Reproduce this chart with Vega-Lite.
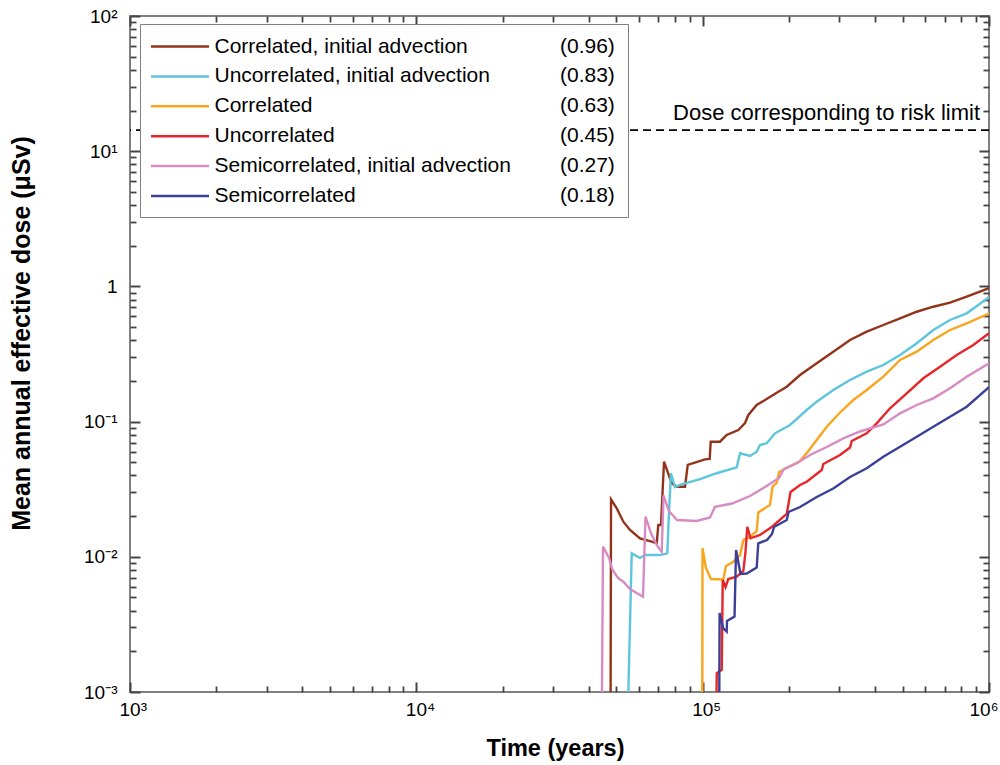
{
  "$schema": "https://vega.github.io/schema/vega-lite/v6.json",
  "width": 859,
  "height": 676,
  "autosize": {"type": "none"},
  "padding": {"left": 130, "top": 16, "right": 11, "bottom": 73},
  "background": "white",
  "config": {
    "view": {"stroke": "#808080", "strokeWidth": 2},
    "font": "Liberation Sans",
    "axis": {"labelFont": "Liberation Sans", "titleFont": "Liberation Sans", "labelColor": "black", "titleColor": "black", "grid": false, "domain": false, "labelFlush": false, "labelOverlap": false, "labelBound": false}
  },
  "datasets": {
    "curves": [
      {"scenario": "Correlated, initial advection", "fraction": "(0.96)", "time": 47700, "dose": 0.001},
      {"scenario": "Correlated, initial advection", "fraction": "(0.96)", "time": 47860, "dose": 0.0266},
      {"scenario": "Correlated, initial advection", "fraction": "(0.96)", "time": 50100, "dose": 0.02284},
      {"scenario": "Correlated, initial advection", "fraction": "(0.96)", "time": 52840, "dose": 0.01818},
      {"scenario": "Correlated, initial advection", "fraction": "(0.96)", "time": 55760, "dose": 0.01579},
      {"scenario": "Correlated, initial advection", "fraction": "(0.96)", "time": 60410, "dose": 0.0137},
      {"scenario": "Correlated, initial advection", "fraction": "(0.96)", "time": 66380, "dose": 0.01293},
      {"scenario": "Correlated, initial advection", "fraction": "(0.96)", "time": 69110, "dose": 0.01259},
      {"scenario": "Correlated, initial advection", "fraction": "(0.96)", "time": 69990, "dose": 0.01719},
      {"scenario": "Correlated, initial advection", "fraction": "(0.96)", "time": 71530, "dose": 0.01719},
      {"scenario": "Correlated, initial advection", "fraction": "(0.96)", "time": 73280, "dose": 0.0505},
      {"scenario": "Correlated, initial advection", "fraction": "(0.96)", "time": 77950, "dose": 0.035},
      {"scenario": "Correlated, initial advection", "fraction": "(0.96)", "time": 81150, "dose": 0.033},
      {"scenario": "Correlated, initial advection", "fraction": "(0.96)", "time": 86780, "dose": 0.033},
      {"scenario": "Correlated, initial advection", "fraction": "(0.96)", "time": 88680, "dose": 0.0478},
      {"scenario": "Correlated, initial advection", "fraction": "(0.96)", "time": 101900, "dose": 0.0526},
      {"scenario": "Correlated, initial advection", "fraction": "(0.96)", "time": 105800, "dose": 0.053},
      {"scenario": "Correlated, initial advection", "fraction": "(0.96)", "time": 106700, "dose": 0.071},
      {"scenario": "Correlated, initial advection", "fraction": "(0.96)", "time": 115000, "dose": 0.071},
      {"scenario": "Correlated, initial advection", "fraction": "(0.96)", "time": 121300, "dose": 0.0796},
      {"scenario": "Correlated, initial advection", "fraction": "(0.96)", "time": 133200, "dose": 0.0867},
      {"scenario": "Correlated, initial advection", "fraction": "(0.96)", "time": 140600, "dose": 0.0976},
      {"scenario": "Correlated, initial advection", "fraction": "(0.96)", "time": 144400, "dose": 0.1119},
      {"scenario": "Correlated, initial advection", "fraction": "(0.96)", "time": 154400, "dose": 0.1327},
      {"scenario": "Correlated, initial advection", "fraction": "(0.96)", "time": 165100, "dose": 0.1444},
      {"scenario": "Correlated, initial advection", "fraction": "(0.96)", "time": 183800, "dose": 0.1664},
      {"scenario": "Correlated, initial advection", "fraction": "(0.96)", "time": 196600, "dose": 0.1812},
      {"scenario": "Correlated, initial advection", "fraction": "(0.96)", "time": 218800, "dose": 0.2212},
      {"scenario": "Correlated, initial advection", "fraction": "(0.96)", "time": 250200, "dose": 0.27},
      {"scenario": "Correlated, initial advection", "fraction": "(0.96)", "time": 285900, "dose": 0.3289},
      {"scenario": "Correlated, initial advection", "fraction": "(0.96)", "time": 327100, "dose": 0.4014},
      {"scenario": "Correlated, initial advection", "fraction": "(0.96)", "time": 374100, "dose": 0.4623},
      {"scenario": "Correlated, initial advection", "fraction": "(0.96)", "time": 427500, "dose": 0.5182},
      {"scenario": "Correlated, initial advection", "fraction": "(0.96)", "time": 489100, "dose": 0.5807},
      {"scenario": "Correlated, initial advection", "fraction": "(0.96)", "time": 559300, "dose": 0.6496},
      {"scenario": "Correlated, initial advection", "fraction": "(0.96)", "time": 639000, "dose": 0.7076},
      {"scenario": "Correlated, initial advection", "fraction": "(0.96)", "time": 730900, "dose": 0.7575},
      {"scenario": "Correlated, initial advection", "fraction": "(0.96)", "time": 835800, "dose": 0.8389},
      {"scenario": "Correlated, initial advection", "fraction": "(0.96)", "time": 1000000, "dose": 0.97},

      {"scenario": "Uncorrelated, initial advection", "fraction": "(0.83)", "time": 55000, "dose": 0.001},
      {"scenario": "Uncorrelated, initial advection", "fraction": "(0.83)", "time": 56530, "dose": 0.0106},
      {"scenario": "Uncorrelated, initial advection", "fraction": "(0.83)", "time": 60410, "dose": 0.0098},
      {"scenario": "Uncorrelated, initial advection", "fraction": "(0.83)", "time": 62890, "dose": 0.0103},
      {"scenario": "Uncorrelated, initial advection", "fraction": "(0.83)", "time": 70960, "dose": 0.0103},
      {"scenario": "Uncorrelated, initial advection", "fraction": "(0.83)", "time": 75230, "dose": 0.0106},
      {"scenario": "Uncorrelated, initial advection", "fraction": "(0.83)", "time": 76450, "dose": 0.0235},
      {"scenario": "Uncorrelated, initial advection", "fraction": "(0.83)", "time": 77500, "dose": 0.0415},
      {"scenario": "Uncorrelated, initial advection", "fraction": "(0.83)", "time": 80040, "dose": 0.0328},
      {"scenario": "Uncorrelated, initial advection", "fraction": "(0.83)", "time": 83330, "dose": 0.034},
      {"scenario": "Uncorrelated, initial advection", "fraction": "(0.83)", "time": 97890, "dose": 0.0376},
      {"scenario": "Uncorrelated, initial advection", "fraction": "(0.83)", "time": 111900, "dose": 0.0415},
      {"scenario": "Uncorrelated, initial advection", "fraction": "(0.83)", "time": 131500, "dose": 0.0459},
      {"scenario": "Uncorrelated, initial advection", "fraction": "(0.83)", "time": 135100, "dose": 0.0583},
      {"scenario": "Uncorrelated, initial advection", "fraction": "(0.83)", "time": 146300, "dose": 0.0557},
      {"scenario": "Uncorrelated, initial advection", "fraction": "(0.83)", "time": 154400, "dose": 0.0599},
      {"scenario": "Uncorrelated, initial advection", "fraction": "(0.83)", "time": 158600, "dose": 0.0671},
      {"scenario": "Uncorrelated, initial advection", "fraction": "(0.83)", "time": 167400, "dose": 0.0691},
      {"scenario": "Uncorrelated, initial advection", "fraction": "(0.83)", "time": 178900, "dose": 0.0819},
      {"scenario": "Uncorrelated, initial advection", "fraction": "(0.83)", "time": 201900, "dose": 0.0944},
      {"scenario": "Uncorrelated, initial advection", "fraction": "(0.83)", "time": 230900, "dose": 0.1218},
      {"scenario": "Uncorrelated, initial advection", "fraction": "(0.83)", "time": 250200, "dose": 0.1404},
      {"scenario": "Uncorrelated, initial advection", "fraction": "(0.83)", "time": 285900, "dose": 0.1713},
      {"scenario": "Uncorrelated, initial advection", "fraction": "(0.83)", "time": 327100, "dose": 0.2031},
      {"scenario": "Uncorrelated, initial advection", "fraction": "(0.83)", "time": 374100, "dose": 0.234},
      {"scenario": "Uncorrelated, initial advection", "fraction": "(0.83)", "time": 427500, "dose": 0.2622},
      {"scenario": "Uncorrelated, initial advection", "fraction": "(0.83)", "time": 489100, "dose": 0.3109},
      {"scenario": "Uncorrelated, initial advection", "fraction": "(0.83)", "time": 559300, "dose": 0.3795},
      {"scenario": "Uncorrelated, initial advection", "fraction": "(0.83)", "time": 639000, "dose": 0.476},
      {"scenario": "Uncorrelated, initial advection", "fraction": "(0.83)", "time": 730900, "dose": 0.5642},
      {"scenario": "Uncorrelated, initial advection", "fraction": "(0.83)", "time": 835800, "dose": 0.6322},
      {"scenario": "Uncorrelated, initial advection", "fraction": "(0.83)", "time": 1000000, "dose": 0.83},

      {"scenario": "Correlated", "fraction": "(0.63)", "time": 99700, "dose": 0.001},
      {"scenario": "Correlated", "fraction": "(0.63)", "time": 99880, "dose": 0.01156},
      {"scenario": "Correlated", "fraction": "(0.63)", "time": 102700, "dose": 0.00826},
      {"scenario": "Correlated", "fraction": "(0.63)", "time": 106900, "dose": 0.00685},
      {"scenario": "Correlated", "fraction": "(0.63)", "time": 118000, "dose": 0.00679},
      {"scenario": "Correlated", "fraction": "(0.63)", "time": 120600, "dose": 0.00855},
      {"scenario": "Correlated", "fraction": "(0.63)", "time": 128000, "dose": 0.0092},
      {"scenario": "Correlated", "fraction": "(0.63)", "time": 135100, "dose": 0.0103},
      {"scenario": "Correlated", "fraction": "(0.63)", "time": 138700, "dose": 0.0133},
      {"scenario": "Correlated", "fraction": "(0.63)", "time": 146300, "dose": 0.0141},
      {"scenario": "Correlated", "fraction": "(0.63)", "time": 154400, "dose": 0.0155},
      {"scenario": "Correlated", "fraction": "(0.63)", "time": 156400, "dose": 0.0213},
      {"scenario": "Correlated", "fraction": "(0.63)", "time": 171900, "dose": 0.0242},
      {"scenario": "Correlated", "fraction": "(0.63)", "time": 175400, "dose": 0.033},
      {"scenario": "Correlated", "fraction": "(0.63)", "time": 181400, "dose": 0.0352},
      {"scenario": "Correlated", "fraction": "(0.63)", "time": 184800, "dose": 0.0424},
      {"scenario": "Correlated", "fraction": "(0.63)", "time": 196600, "dose": 0.0454},
      {"scenario": "Correlated", "fraction": "(0.63)", "time": 218800, "dose": 0.0511},
      {"scenario": "Correlated", "fraction": "(0.63)", "time": 233900, "dose": 0.0606},
      {"scenario": "Correlated", "fraction": "(0.63)", "time": 250200, "dose": 0.0731},
      {"scenario": "Correlated", "fraction": "(0.63)", "time": 271200, "dose": 0.0917},
      {"scenario": "Correlated", "fraction": "(0.63)", "time": 301800, "dose": 0.1168},
      {"scenario": "Correlated", "fraction": "(0.63)", "time": 335900, "dose": 0.1444},
      {"scenario": "Correlated", "fraction": "(0.63)", "time": 374100, "dose": 0.1713},
      {"scenario": "Correlated", "fraction": "(0.63)", "time": 427500, "dose": 0.2149},
      {"scenario": "Correlated", "fraction": "(0.63)", "time": 489100, "dose": 0.2856},
      {"scenario": "Correlated", "fraction": "(0.63)", "time": 559300, "dose": 0.3289},
      {"scenario": "Correlated", "fraction": "(0.63)", "time": 639000, "dose": 0.4014},
      {"scenario": "Correlated", "fraction": "(0.63)", "time": 730900, "dose": 0.476},
      {"scenario": "Correlated", "fraction": "(0.63)", "time": 835800, "dose": 0.5334},
      {"scenario": "Correlated", "fraction": "(0.63)", "time": 1000000, "dose": 0.63},

      {"scenario": "Uncorrelated", "fraction": "(0.45)", "time": 111800, "dose": 0.001},
      {"scenario": "Uncorrelated", "fraction": "(0.45)", "time": 112000, "dose": 0.00138},
      {"scenario": "Uncorrelated", "fraction": "(0.45)", "time": 116600, "dose": 0.00146},
      {"scenario": "Uncorrelated", "fraction": "(0.45)", "time": 117500, "dose": 0.00674},
      {"scenario": "Uncorrelated", "fraction": "(0.45)", "time": 120200, "dose": 0.00598},
      {"scenario": "Uncorrelated", "fraction": "(0.45)", "time": 122900, "dose": 0.00685},
      {"scenario": "Uncorrelated", "fraction": "(0.45)", "time": 131500, "dose": 0.00713},
      {"scenario": "Uncorrelated", "fraction": "(0.45)", "time": 138700, "dose": 0.00785},
      {"scenario": "Uncorrelated", "fraction": "(0.45)", "time": 141100, "dose": 0.01085},
      {"scenario": "Uncorrelated", "fraction": "(0.45)", "time": 143200, "dose": 0.01669},
      {"scenario": "Uncorrelated", "fraction": "(0.45)", "time": 146900, "dose": 0.0137},
      {"scenario": "Uncorrelated", "fraction": "(0.45)", "time": 158600, "dose": 0.0145},
      {"scenario": "Uncorrelated", "fraction": "(0.45)", "time": 174200, "dose": 0.01661},
      {"scenario": "Uncorrelated", "fraction": "(0.45)", "time": 196600, "dose": 0.02074},
      {"scenario": "Uncorrelated", "fraction": "(0.45)", "time": 202700, "dose": 0.03015},
      {"scenario": "Uncorrelated", "fraction": "(0.45)", "time": 218800, "dose": 0.03397},
      {"scenario": "Uncorrelated", "fraction": "(0.45)", "time": 230900, "dose": 0.03593},
      {"scenario": "Uncorrelated", "fraction": "(0.45)", "time": 260500, "dose": 0.04385},
      {"scenario": "Uncorrelated", "fraction": "(0.45)", "time": 263900, "dose": 0.04858},
      {"scenario": "Uncorrelated", "fraction": "(0.45)", "time": 301800, "dose": 0.05662},
      {"scenario": "Uncorrelated", "fraction": "(0.45)", "time": 327100, "dose": 0.06433},
      {"scenario": "Uncorrelated", "fraction": "(0.45)", "time": 331600, "dose": 0.07185},
      {"scenario": "Uncorrelated", "fraction": "(0.45)", "time": 374100, "dose": 0.08193},
      {"scenario": "Uncorrelated", "fraction": "(0.45)", "time": 405300, "dose": 0.09714},
      {"scenario": "Uncorrelated", "fraction": "(0.45)", "time": 451100, "dose": 0.1254},
      {"scenario": "Uncorrelated", "fraction": "(0.45)", "time": 515900, "dose": 0.1619},
      {"scenario": "Uncorrelated", "fraction": "(0.45)", "time": 589700, "dose": 0.2091},
      {"scenario": "Uncorrelated", "fraction": "(0.45)", "time": 674500, "dose": 0.2547},
      {"scenario": "Uncorrelated", "fraction": "(0.45)", "time": 771400, "dose": 0.3109},
      {"scenario": "Uncorrelated", "fraction": "(0.45)", "time": 881400, "dose": 0.3686},
      {"scenario": "Uncorrelated", "fraction": "(0.45)", "time": 1000000, "dose": 0.45},

      {"scenario": "Semicorrelated, initial advection", "fraction": "(0.27)", "time": 44500, "dose": 0.001},
      {"scenario": "Semicorrelated, initial advection", "fraction": "(0.27)", "time": 44870, "dose": 0.01188},
      {"scenario": "Semicorrelated, initial advection", "fraction": "(0.27)", "time": 47090, "dose": 0.0098},
      {"scenario": "Semicorrelated, initial advection", "fraction": "(0.27)", "time": 48430, "dose": 0.00799},
      {"scenario": "Semicorrelated, initial advection", "fraction": "(0.27)", "time": 50620, "dose": 0.00697},
      {"scenario": "Semicorrelated, initial advection", "fraction": "(0.27)", "time": 52840, "dose": 0.00654},
      {"scenario": "Semicorrelated, initial advection", "fraction": "(0.27)", "time": 55760, "dose": 0.00578},
      {"scenario": "Semicorrelated, initial advection", "fraction": "(0.27)", "time": 61890, "dose": 0.00507},
      {"scenario": "Semicorrelated, initial advection", "fraction": "(0.27)", "time": 63150, "dose": 0.0198},
      {"scenario": "Semicorrelated, initial advection", "fraction": "(0.27)", "time": 66000, "dose": 0.01492},
      {"scenario": "Semicorrelated, initial advection", "fraction": "(0.27)", "time": 69280, "dose": 0.01213},
      {"scenario": "Semicorrelated, initial advection", "fraction": "(0.27)", "time": 71940, "dose": 0.01091},
      {"scenario": "Semicorrelated, initial advection", "fraction": "(0.27)", "time": 72990, "dose": 0.02841},
      {"scenario": "Semicorrelated, initial advection", "fraction": "(0.27)", "time": 76270, "dose": 0.02182},
      {"scenario": "Semicorrelated, initial advection", "fraction": "(0.27)", "time": 81350, "dose": 0.01872},
      {"scenario": "Semicorrelated, initial advection", "fraction": "(0.27)", "time": 95330, "dose": 0.0184},
      {"scenario": "Semicorrelated, initial advection", "fraction": "(0.27)", "time": 106100, "dose": 0.01953},
      {"scenario": "Semicorrelated, initial advection", "fraction": "(0.27)", "time": 110400, "dose": 0.02347},
      {"scenario": "Semicorrelated, initial advection", "fraction": "(0.27)", "time": 126600, "dose": 0.02479},
      {"scenario": "Semicorrelated, initial advection", "fraction": "(0.27)", "time": 146300, "dose": 0.02817},
      {"scenario": "Semicorrelated, initial advection", "fraction": "(0.27)", "time": 165100, "dose": 0.03283},
      {"scenario": "Semicorrelated, initial advection", "fraction": "(0.27)", "time": 184800, "dose": 0.03827},
      {"scenario": "Semicorrelated, initial advection", "fraction": "(0.27)", "time": 192400, "dose": 0.04461},
      {"scenario": "Semicorrelated, initial advection", "fraction": "(0.27)", "time": 213100, "dose": 0.04916},
      {"scenario": "Semicorrelated, initial advection", "fraction": "(0.27)", "time": 237100, "dose": 0.05662},
      {"scenario": "Semicorrelated, initial advection", "fraction": "(0.27)", "time": 271200, "dose": 0.0649},
      {"scenario": "Semicorrelated, initial advection", "fraction": "(0.27)", "time": 309900, "dose": 0.07521},
      {"scenario": "Semicorrelated, initial advection", "fraction": "(0.27)", "time": 354400, "dose": 0.08449},
      {"scenario": "Semicorrelated, initial advection", "fraction": "(0.27)", "time": 427500, "dose": 0.09518},
      {"scenario": "Semicorrelated, initial advection", "fraction": "(0.27)", "time": 489100, "dose": 0.1151},
      {"scenario": "Semicorrelated, initial advection", "fraction": "(0.27)", "time": 559300, "dose": 0.1327},
      {"scenario": "Semicorrelated, initial advection", "fraction": "(0.27)", "time": 639000, "dose": 0.1487},
      {"scenario": "Semicorrelated, initial advection", "fraction": "(0.27)", "time": 730900, "dose": 0.1763},
      {"scenario": "Semicorrelated, initial advection", "fraction": "(0.27)", "time": 835800, "dose": 0.2149},
      {"scenario": "Semicorrelated, initial advection", "fraction": "(0.27)", "time": 1000000, "dose": 0.27},

      {"scenario": "Semicorrelated", "fraction": "(0.18)", "time": 114300, "dose": 0.001},
      {"scenario": "Semicorrelated", "fraction": "(0.18)", "time": 114600, "dose": 0.00384},
      {"scenario": "Semicorrelated", "fraction": "(0.18)", "time": 118000, "dose": 0.00296},
      {"scenario": "Semicorrelated", "fraction": "(0.18)", "time": 121300, "dose": 0.0028},
      {"scenario": "Semicorrelated", "fraction": "(0.18)", "time": 121600, "dose": 0.00335},
      {"scenario": "Semicorrelated", "fraction": "(0.18)", "time": 129200, "dose": 0.00361},
      {"scenario": "Semicorrelated", "fraction": "(0.18)", "time": 130800, "dose": 0.01123},
      {"scenario": "Semicorrelated", "fraction": "(0.18)", "time": 135600, "dose": 0.00746},
      {"scenario": "Semicorrelated", "fraction": "(0.18)", "time": 142500, "dose": 0.00752},
      {"scenario": "Semicorrelated", "fraction": "(0.18)", "time": 154400, "dose": 0.00833},
      {"scenario": "Semicorrelated", "fraction": "(0.18)", "time": 156400, "dose": 0.01259},
      {"scenario": "Semicorrelated", "fraction": "(0.18)", "time": 167800, "dose": 0.01331},
      {"scenario": "Semicorrelated", "fraction": "(0.18)", "time": 174700, "dose": 0.01475},
      {"scenario": "Semicorrelated", "fraction": "(0.18)", "time": 177500, "dose": 0.01661},
      {"scenario": "Semicorrelated", "fraction": "(0.18)", "time": 196600, "dose": 0.01872},
      {"scenario": "Semicorrelated", "fraction": "(0.18)", "time": 199500, "dose": 0.02145},
      {"scenario": "Semicorrelated", "fraction": "(0.18)", "time": 218800, "dose": 0.02336},
      {"scenario": "Semicorrelated", "fraction": "(0.18)", "time": 250200, "dose": 0.02769},
      {"scenario": "Semicorrelated", "fraction": "(0.18)", "time": 285900, "dose": 0.032},
      {"scenario": "Semicorrelated", "fraction": "(0.18)", "time": 327100, "dose": 0.03893},
      {"scenario": "Semicorrelated", "fraction": "(0.18)", "time": 374100, "dose": 0.04512},
      {"scenario": "Semicorrelated", "fraction": "(0.18)", "time": 427500, "dose": 0.055},
      {"scenario": "Semicorrelated", "fraction": "(0.18)", "time": 489100, "dose": 0.06523},
      {"scenario": "Semicorrelated", "fraction": "(0.18)", "time": 559300, "dose": 0.0773},
      {"scenario": "Semicorrelated", "fraction": "(0.18)", "time": 639000, "dose": 0.0917},
      {"scenario": "Semicorrelated", "fraction": "(0.18)", "time": 730900, "dose": 0.1087},
      {"scenario": "Semicorrelated", "fraction": "(0.18)", "time": 835800, "dose": 0.1289},
      {"scenario": "Semicorrelated", "fraction": "(0.18)", "time": 1000000, "dose": 0.18}
    ],
    "limit": [
      {"time": 1000000, "dose": 14.3, "label": "Dose corresponding to risk limit"}
    ]
  },
  "layer": [
    {
      "data": {"name": "curves"},
      "mark": {"type": "line", "strokeWidth": 2.4, "clip": true},
      "encoding": {
        "x": {
          "field": "time", "type": "quantitative",
          "scale": {"type": "log", "domain": [1000, 1000000], "nice": false},
          "axis": {
            "orient": "bottom",
            "values": [1000, 10000, 100000, 1000000],
            "labelExpr": "datum.value == 1000 ? '10³' : datum.value == 10000 ? '10⁴' : datum.value == 100000 ? '10⁵' : '10⁶'",
            "tickSize": -10, "tickColor": "#444444", "tickWidth": 2,
            "labelFontSize": 19,
            "labelAlign": "left",
            "labelOffset": {"condition": {"test": "datum.value == 1000000", "value": -20}, "value": -11},
            "labelPadding": 18,
            "title": "Time (years)",
            "titleFontSize": 23.5,
            "titleFontWeight": "bold",
            "titlePadding": 17,
            "titleX": 425
          }
        },
        "y": {
          "field": "dose", "type": "quantitative",
          "scale": {"type": "log", "domain": [0.001, 100], "nice": false},
          "axis": {
            "orient": "left",
            "values": [0.001, 0.01, 0.1, 1, 10, 100],
            "labelExpr": "datum.value == 100 ? '10²' : datum.value == 10 ? '10¹' : datum.value == 1 ? '1' : datum.value == 0.1 ? '10⁻¹' : datum.value == 0.01 ? '10⁻²' : '10⁻³'",
            "tickSize": -10, "tickColor": "#444444", "tickWidth": 2,
            "labelFontSize": 19,
            "labelPadding": 23,
            "title": "Mean annual effective dose (μSv)",
            "titleFontSize": 25,
            "titleFontWeight": "bold",
            "titlePadding": 49,
            "titleY": 317
          }
        },
        "color": {
          "field": "scenario", "type": "nominal",
          "scale": {
            "domain": ["Correlated, initial advection", "Uncorrelated, initial advection", "Correlated", "Uncorrelated", "Semicorrelated, initial advection", "Semicorrelated"],
            "range": ["#93341A", "#5EC5DC", "#F9A51E", "#E8262A", "#D88BC3", "#3A4096"]
          },
          "legend": {
            "title": null,
            "orient": "none",
            "legendX": 10,
            "legendY": 8,
            "zindex": 2,
            "padding": 11,
            "fillColor": "white",
            "strokeColor": "#808080",
            "symbolType": "M-2.9,0H2.9",
            "symbolSize": 400,
            "symbolStrokeWidth": 2.5,
            "symbolOffset": 17.5,
            "labelFont": "Liberation Sans",
            "labelFontSize": 21,
            "labelColor": "black",
            "labelOffset": 23,
            "labelLimit": 1000,
            "rowPadding": 7.9,
            "labelExpr": "datum.label + '\u00a0\u00a0\u00a0\u00a0\u00a0\u00a0\u00a0\u00a0\u00a0\u00a0\u00a0\u00a0\u00a0\u00a0\u00a0\u00a0\u00a0\u00a0\u200b'"
          }
        },
        "opacity": {
          "field": "fraction", "type": "ordinal",
          "scale": {"domain": ["(0.96)", "(0.83)", "(0.63)", "(0.45)", "(0.27)", "(0.18)"], "range": [1, 1, 1, 1, 1, 1]},
          "legend": {
            "title": null,
            "orient": "none",
            "legendX": 409,
            "legendY": 20,
            "zindex": 3,
            "padding": 0,
            "symbolType": "stroke",
            "symbolSize": 0,
            "symbolStrokeWidth": 0,
            "symbolStrokeColor": "transparent",
            "labelFont": "Liberation Sans",
            "labelFontSize": 21,
            "labelColor": "black",
            "labelOffset": 0,
            "rowPadding": 7.9
          }
        }
      }
    },
    {
      "data": {"name": "limit"},
      "mark": {"type": "rule", "color": "black", "strokeWidth": 1.8, "strokeDash": [8, 5]},
      "encoding": {
        "y": {"field": "dose", "type": "quantitative", "axis": null}
      }
    },
    {
      "data": {"name": "limit"},
      "mark": {"type": "text", "align": "right", "baseline": "alphabetic", "dx": -9, "dy": -10, "fontSize": 22, "font": "Liberation Sans", "color": "black"},
      "encoding": {
        "x": {
          "field": "time", "type": "quantitative",
          "axis": {"orient": "top", "values": [1000, 10000, 100000, 1000000], "labels": false, "title": null, "tickSize": -10, "tickColor": "#444444", "tickWidth": 2}
        },
        "y": {
          "field": "dose", "type": "quantitative",
          "axis": {"orient": "right", "values": [0.001, 0.01, 0.1, 1, 10, 100], "labels": false, "title": null, "tickSize": -10, "tickColor": "#444444", "tickWidth": 2}
        },
        "text": {"field": "label", "type": "nominal"}
      }
    },
    {
      "data": {"name": "limit"},
      "mark": {"type": "text", "text": ""},
      "encoding": {
        "x": {
          "field": "time", "type": "quantitative",
          "axis": {
            "orient": "top",
            "values": [2000, 3000, 4000, 5000, 6000, 7000, 8000, 9000, 20000, 30000, 40000, 50000, 60000, 70000, 80000, 90000, 200000, 300000, 400000, 500000, 600000, 700000, 800000, 900000],
            "labels": false, "title": null, "tickSize": -6, "tickColor": "#444444", "tickWidth": 1.8
          }
        },
        "y": {
          "field": "dose", "type": "quantitative",
          "axis": {
            "orient": "right",
            "values": [0.002, 0.003, 0.004, 0.005, 0.006, 0.007, 0.008, 0.009, 0.02, 0.03, 0.04, 0.05, 0.06, 0.07, 0.08, 0.09, 0.2, 0.3, 0.4, 0.5, 0.6, 0.7, 0.8, 0.9, 2, 3, 4, 5, 6, 7, 8, 9, 20, 30, 40, 50, 60, 70, 80, 90],
            "labels": false, "title": null, "tickSize": -6, "tickColor": "#444444", "tickWidth": 1.8
          }
        }
      }
    },
    {
      "data": {"name": "limit"},
      "mark": {"type": "text", "text": ""},
      "encoding": {
        "x": {
          "field": "time", "type": "quantitative",
          "axis": {
            "orient": "bottom",
            "values": [2000, 3000, 4000, 5000, 6000, 7000, 8000, 9000, 20000, 30000, 40000, 50000, 60000, 70000, 80000, 90000, 200000, 300000, 400000, 500000, 600000, 700000, 800000, 900000],
            "labels": false, "title": null, "tickSize": -6, "tickColor": "#444444", "tickWidth": 1.8
          }
        },
        "y": {
          "field": "dose", "type": "quantitative",
          "axis": {
            "orient": "left",
            "values": [0.002, 0.003, 0.004, 0.005, 0.006, 0.007, 0.008, 0.009, 0.02, 0.03, 0.04, 0.05, 0.06, 0.07, 0.08, 0.09, 0.2, 0.3, 0.4, 0.5, 0.6, 0.7, 0.8, 0.9, 2, 3, 4, 5, 6, 7, 8, 9, 20, 30, 40, 50, 60, 70, 80, 90],
            "labels": false, "title": null, "tickSize": -6, "tickColor": "#444444", "tickWidth": 1.8
          }
        }
      }
    }
  ],
  "resolve": {"axis": {"x": "independent", "y": "independent"}}
}
